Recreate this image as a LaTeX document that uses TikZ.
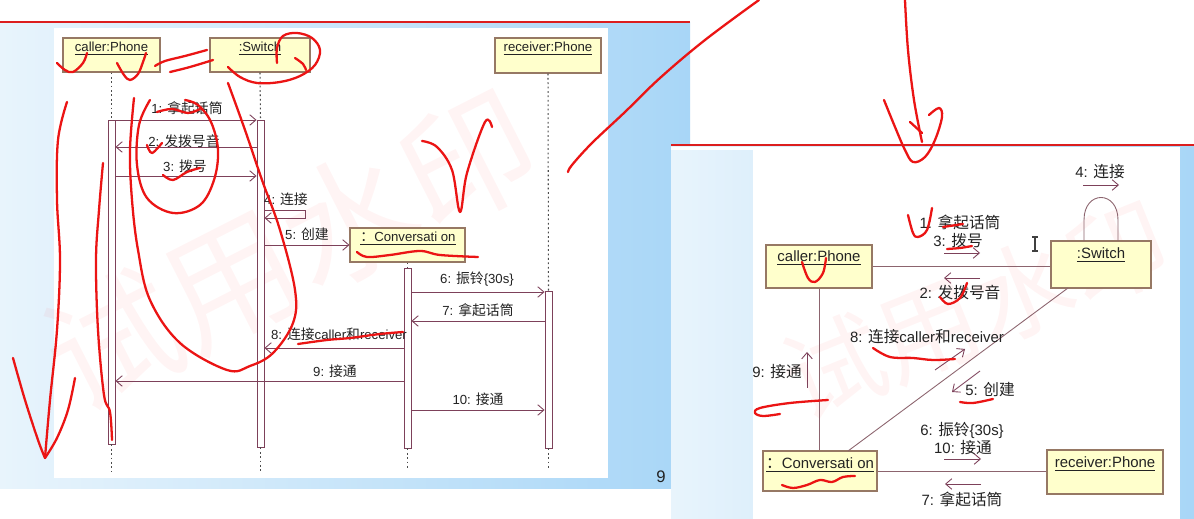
\documentclass[tikz,border=0pt]{standalone}
\usepackage{fontspec}
\setmainfont{Liberation Sans}
\newfontfamily\cjk[Scale=1.05]{Noto Sans CJK SC}
\newcommand{\zh}[1]{{\cjk #1}}
\usetikzlibrary{arrows.meta}
\definecolor{objf}{RGB}{255,255,204}
\definecolor{objb}{RGB}{150,120,100}
\definecolor{msgc}{RGB}{125,65,90}
\definecolor{linkc}{RGB}{140,100,110}
\definecolor{txt}{RGB}{35,35,35}
\definecolor{inkred}{RGB}{235,20,20}
\definecolor{slideL}{RGB}{232,244,252}
\definecolor{slideR}{RGB}{168,214,247}
\definecolor{topred}{RGB}{220,30,30}
\newcommand{\lf}{\fontsize{7.5}{8.5}\selectfont}
\newcommand{\rf}{\fontsize{8.5}{10}\selectfont}
\begin{document}
\begin{tikzpicture}[x=0.02cm,y=-0.02cm,
  obj/.style={draw=objb, fill=objf, line width=0.6pt, inner sep=0pt},
  act/.style={draw=msgc, fill=white, line width=0.5pt, inner sep=0pt, minimum width=0.14cm},
  msg/.style={draw=msgc, line width=0.5pt, -{Straight Barb[length=3.5pt,width=6pt]}},
  life/.style={draw=black!70, line width=0.6pt, dash pattern=on 1pt off 1.5pt},
  lbl/.style={inner sep=0pt, text=txt},
  ll/.style={lbl, font=\lf},
  rl/.style={lbl, font=\rf},
  ink/.style={draw=inkred, line width=1.3pt, line cap=round, line join=round},
  link/.style={draw=linkc, line width=0.5pt},
  wm/.style={text=red, opacity=0.045, inner sep=0pt}]
\useasboundingbox (0,0) rectangle (1194,519);
\fill[white] (0,0) rectangle (1194,519);
% ---------- left slide ----------
\shade[left color=slideL, right color=slideR] (0,23) rectangle (690,489);
\fill[white] (54,28) rectangle (608,478);
\draw[topred, line width=1.2pt] (0,22) -- (690,22);
\node[lbl, font=\fontsize{9.5}{10}\selectfont] (pg) at (661,477) {9};
\node[wm, rotate=27, font=\cjk\fontsize{72}{72}\selectfont] (wm1) at (290,250) {试用水印};
% heads
\node[obj, minimum width=1.94cm, minimum height=0.68cm] (hC) at (111.5,55) {};
\node[ll] (hCt) at (111.5,49) {\underline{caller:Phone}};
\node[obj, minimum width=2.0cm, minimum height=0.68cm] (hS) at (260,55) {};
\node[ll] (hSt) at (260,49) {\underline{:Switch}};
\node[obj, minimum width=2.12cm, minimum height=0.70cm] (hR) at (548,55.5) {};
\node[ll] (hRt) at (548,49) {\underline{receiver:Phone}};
\node[obj, minimum width=2.3cm, minimum height=0.68cm] (hV) at (407.5,245) {};
\node[ll] (hVt) at (408,239) {\underline{\zh{：}Conversati on}};
% activations
\node[act, minimum height=6.48cm] (aC) at (111.5,282) {};
\node[act, minimum height=6.54cm] (aS) at (260.5,283.5) {};
\node[act, minimum height=3.6cm] (aV) at (407.5,358) {};
\node[act, minimum height=3.14cm] (aR) at (548.5,369.5) {};
% lifelines
\coordinate (eC) at (111.5,472);
\coordinate (eS) at (260.5,472);
\coordinate (eV) at (407.5,470);
\coordinate (eR) at (548.5,470);
\draw[life] (hC.south) -- (aC.north);
\draw[life] (aC.south) -- (eC);
\draw[life] (hS.south) -- (aS.north);
\draw[life] (aS.south) -- (eS);
\draw[life] (hV.south) -- (aV.north);
\draw[life] (aV.south) -- (eV);
\draw[life] (hR.south) -- (aR.north);
\draw[life] (aR.south) -- (eR);
% message rows
\coordinate (m1) at (0,120);
\coordinate (m2) at (0,147);
\coordinate (m3) at (0,176);
\coordinate (m4a) at (305,210);
\coordinate (m4b) at (305,218);
\coordinate (m5) at (0,245);
\coordinate (m6) at (0,292);
\coordinate (m7) at (0,321);
\coordinate (m8) at (0,348);
\coordinate (m9) at (0,381);
\coordinate (m10) at (0,410);
\draw[msg] (aC.east |- m1) -- (aS.west |- m1);
\draw[msg] (aS.west |- m2) -- (aC.east |- m2);
\draw[msg] (aC.east |- m3) -- (aS.west |- m3);
\draw[msg] (aS.east |- m4a) -- (m4a) -- (m4b) -- (aS.east |- m4b);
\draw[msg] (aS.east |- m5) -- (hV.west);
\draw[msg] (aV.east |- m6) -- (aR.west |- m6);
\draw[msg] (aR.west |- m7) -- (aV.east |- m7);
\draw[msg] (aV.west |- m8) -- (aS.east |- m8);
\draw[msg] (aV.west |- m9) -- (aC.east |- m9);
\draw[msg] (aV.east |- m10) -- (aR.west |- m10);
\node[ll] (l1) at (187,108.5) {1: \zh{拿起话筒}};
\node[ll] (l2) at (184,141) {2: \zh{发拨号音}};
\node[ll] (l3) at (185,166) {3: \zh{拨号}};
\node[ll] (l4) at (286,199) {4: \zh{连接}};
\node[ll] (l5) at (307,234) {5: \zh{创建}};
\node[ll] (l6) at (477,279) {6: \zh{振铃}\{30s\}};
\node[ll] (l7) at (478,310.5) {7: \zh{拿起话筒}};
\node[ll] (l8) at (339,334) {8: \zh{连接}caller\zh{和}receiver};
\node[ll] (l9) at (335,371) {9: \zh{接通}};
\node[ll] (l10) at (478,399) {10: \zh{接通}};
% ---------- right slide ----------
\shade[left color=slideL, right color=slideR] (671,145) rectangle (1194,519);
\fill[white] (753,150) rectangle (1180,519);
\fill[white] (671,147) rectangle (1180,150);
\draw[topred, line width=1pt] (671,145) -- (1194,145);
\node[wm, rotate=22, font=\cjk\fontsize{55}{55}\selectfont] (wm2) at (975,310) {试用水印};
\node[obj, minimum width=2.12cm, minimum height=0.86cm] (cC) at (819,266.5) {};
\node[rl] (cCt) at (819,258) {\underline{caller:Phone}};
\node[obj, minimum width=2.0cm, minimum height=0.94cm] (cS) at (1101,264.5) {};
\node[rl] (cSt) at (1101,255) {\underline{:Switch}};
\node[obj, minimum width=2.28cm, minimum height=0.80cm] (cV) at (820,471) {};
\node[rl] (cVt) at (820,465) {\underline{\zh{：}Conversati on}};
\node[obj, minimum width=2.32cm, minimum height=0.88cm] (cR) at (1105,472) {};
\node[rl] (cRt) at (1105,464) {\underline{receiver:Phone}};
\coordinate (dV) at (848,451);
\coordinate (dS) at (1068,288);
\coordinate (sl1) at (1084,241);
\coordinate (sl2) at (1118,241);
\draw[link] (cC.east) -- (cS.west |- cC.east);
\draw[link] (cC.south) -- (cC.south |- cV.north);
\draw[link] (dV) -- (dS);
\draw[link] (cV.east) -- (cR.west |- cV.east);
\draw[link] (sl1) -- (1084,220) .. controls (1084,190) and (1118,190) .. (1118,220) -- (sl2);
% message arrows
\draw[msg] (944,253) -- (980,253);
\draw[msg] (980,278) -- (944,278);
\draw[msg] (1083,185) -- (1119,185);
\draw[msg] (935,370) -- (965,349);
\draw[msg] (980,371) -- (952,392);
\draw[msg] (807,388) -- (807,352);
\draw[msg] (944,459) -- (981,459);
\draw[msg] (981,484) -- (945,484);
\node[rl] (r1) at (960,222) {1: \zh{拿起话筒}};
\node[rl] (r3) at (958,241) {3: \zh{拨号}};
\node[rl] (r2) at (960,293) {2: \zh{发拨号音}};
\node[rl] (r4) at (1100,172) {4: \zh{连接}};
\node[rl] (r8) at (927,337) {8: \zh{连接}caller\zh{和}receiver};
\node[rl] (r5) at (990,390) {5: \zh{创建}};
\node[rl] (r9) at (777,372) {9: \zh{接通}};
\node[rl] (r6) at (962,430) {6: \zh{振铃}\{30s\}};
\node[rl] (r10) at (963,448) {10: \zh{接通}};
\node[rl] (r7) at (962,499) {7: \zh{拿起话筒}};
% text cursor
\draw[black!75, line width=0.6pt] (1035,237) -- (1035,251) (1032,237) -- (1038,237) (1032,251) -- (1038,251);
% ---------- red ink ----------
\draw[ink] plot[smooth, tension=0.6] coordinates {(57,63) (65,70) (73,72) (83,63) (87,53)};
\draw[ink] plot[smooth, tension=0.6] coordinates {(117,63) (124,75) (130,80) (138,74) (143,62) (146,53)};
\draw[ink] plot[smooth, tension=0.6] coordinates {(155,66) (165,61) (185,56) (207,50)};
\draw[ink] plot[smooth, tension=0.6] coordinates {(170,72) (190,67) (213,60)};
\draw[ink] plot[smooth, tension=0.6] coordinates {(228,67) (240,77) (257,83) (280,82) (300,76) (315,65) (320,50) (312,38) (297,33) (283,36) (277,48) (277,63)};
\draw[ink] plot[smooth, tension=0.6] coordinates {(295,58) (303,64) (306,70)};
\draw[ink] plot[smooth, tension=0.6] coordinates {(150,100) (139,125) (137,165) (147,198) (173,213) (200,205) (214,180) (218,150) (211,122) (198,105) (185,100)};
\draw[ink] plot[smooth, tension=0.6] coordinates {(134,98) (130,150) (132,200) (138,250) (150,300) (180,343) (227,370) (250,366) (273,353) (293,323) (295,290) (280,230) (262,180) (245,130) (228,83)};
\draw[ink] plot[smooth, tension=0.6] coordinates {(67,102) (58,140) (57,200) (60,260) (57,330) (50,400) (45,458)};
\draw[ink] plot[smooth, tension=0.6] coordinates {(45,458) (57,438) (68,410) (75,378)};
\draw[ink] plot[smooth, tension=0.6] coordinates {(13,358) (25,400) (38,440) (45,458)};
\draw[ink] plot[smooth, tension=0.6] coordinates {(103,163) (99,210) (96,260) (98,330) (104,395) (110,412) (112,440)};
\draw[ink] plot[smooth, tension=0.6] coordinates {(157,112) (172,109) (188,113) (200,109)};
\draw[ink] plot[smooth, tension=0.6] coordinates {(147,145) (152,153) (162,143)};
\draw[ink] plot[smooth, tension=0.6] coordinates {(163,175) (173,180) (187,172) (200,168)};
\draw[ink] plot[smooth, tension=0.6] coordinates {(357,252) (367,257) (390,255) (420,251) (440,255) (478,257)};
\draw[ink] plot[smooth, tension=0.6] coordinates {(298,344) (327,340) (350,338) (380,334) (403,332)};
\draw[ink] plot[smooth, tension=0.6] coordinates {(422,141) (437,147) (452,170) (460,212) (467,173) (485,122) (492,127)};
\draw[ink] plot[smooth, tension=0.6] coordinates {(568,172) (572,165) (592,143) (625,112) (660,78) (705,40) (759,0)};
\draw[ink] plot[smooth, tension=0.6] coordinates {(905,0) (908,50) (914,100) (922,142)};
\draw[ink] plot[smooth, tension=0.6] coordinates {(884,100) (895,127) (905,150) (913,162) (925,157) (935,140) (942,117) (939,108) (929,115)};
\draw[ink] plot[smooth, tension=0.6] coordinates {(910,122) (922,133)};
\draw[ink] plot[smooth, tension=0.6] coordinates {(908,215) (913,233) (918,237) (927,230) (932,208)};
\draw[ink] plot[smooth, tension=0.6] coordinates {(943,227) (963,224)};
\draw[ink] plot[smooth, tension=0.6] coordinates {(947,249) (960,248) (972,246)};
\draw[ink] plot[smooth, tension=0.6] coordinates {(802,262) (808,278) (815,282) (823,273) (826,258)};
\draw[ink] plot[smooth, tension=0.6] coordinates {(940,297) (948,304) (960,298) (967,283)};
\draw[ink] plot[smooth, tension=0.6] coordinates {(873,348) (890,357) (913,358) (933,360) (955,359)};
\draw[ink] plot[smooth, tension=0.6] coordinates {(828,400) (790,403) (760,408) (755,413) (763,416) (780,414)};
\draw[ink] plot[smooth, tension=0.6] coordinates {(960,402) (973,403) (993,399)};
\draw[ink] plot[smooth, tension=0.6] coordinates {(782,485) (793,488) (807,485) (820,480) (832,482) (843,477) (855,476)};
\end{tikzpicture}
\end{document}
